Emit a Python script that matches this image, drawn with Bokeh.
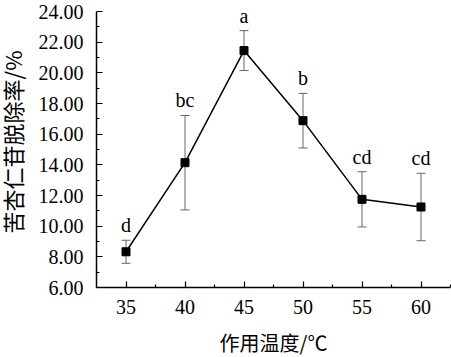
import math
from bokeh.plotting import figure
from bokeh.models import (ColumnDataSource, Whisker, TeeHead, FixedTicker,
                          CustomJSTickFormatter, Range1d)
from bokeh.core.properties import value
from bokeh.embed import file_html
from bokeh.resources import INLINE

temps = [35, 40, 45, 50, 55, 60]
means = [8.33, 14.14, 21.45, 16.88, 11.75, 11.25]
sds = [0.75, 3.08, 1.30, 1.78, 1.80, 2.20]
letters = ["d", "bc", "a", "b", "cd", "cd"]
y_ticks = [6, 8, 10, 12, 14, 16, 18, 20, 22, 24]
x_ticks = [35, 40, 45, 50, 55, 60]
x_title = "作用温度/℃"
y_title = "苦杏仁苷脱除率/%"

src = ColumnDataSource(dict(
    x=temps, y=means,
    upper=[m + s for m, s in zip(means, sds)],
    lower=[m - s for m, s in zip(means, sds)],
    lab=letters,
))

xr = Range1d(32.5, 62.5)
yr = Range1d(6, 24)
p = figure(width=451, height=357, output_backend="svg", toolbar_location=None,
           x_range=xr, y_range=yr)
p.min_border_left = 96
p.min_border_right = 1
p.min_border_top = 11
p.min_border_bottom = 70
p.outline_line_color = None
p.grid.visible = False
p.background_fill_color = "white"
p.border_fill_color = "white"

serif = "Times New Roman"
blank = CustomJSTickFormatter(code="return ''")
for ax in (p.xaxis[0], p.yaxis[0]):
    ax.axis_line_color = "black"
    ax.axis_line_width = 1.5
    ax.major_tick_line_color = "black"
    ax.minor_tick_line_color = "black"
    ax.major_tick_line_width = 1.2
    ax.minor_tick_line_width = 1.2
    ax.major_tick_in = 6
    ax.major_tick_out = 0
    ax.minor_tick_in = 3
    ax.minor_tick_out = 0
    ax.major_label_text_font_size = "20px"
    ax.major_label_standoff = 12
    ax.formatter = blank

p.yaxis.ticker = FixedTicker(ticks=y_ticks, minor_ticks=list(range(7, 24, 2)))
p.xaxis.ticker = FixedTicker(ticks=x_ticks, minor_ticks=[37.5, 42.5, 47.5, 52.5, 57.5, 62.5])

# tick labels drawn in serif through the plot's scales
ysrc = ColumnDataSource(dict(x=[xr.start] * len(y_ticks), y=y_ticks,
                             t=["%.2f" % v for v in y_ticks]))
xsrc = ColumnDataSource(dict(x=x_ticks, y=[yr.start] * len(x_ticks),
                             t=[str(v) for v in x_ticks]))
p.text("x", "y", text="t", source=ysrc, text_font=value(serif), text_font_size="20px",
       text_align="right", text_baseline="middle", x_offset=-13, text_color="black",
       level="overlay")
p.text("x", "y", text="t", source=xsrc, text_font=value(serif), text_font_size="20px",
       text_align="center", text_baseline="top", y_offset=12, text_color="black",
       level="overlay")

# axis titles
xmid = (xr.start + xr.end) / 2
ymid = yr.start + (yr.end - yr.start) * 0.527
p.text(x=[xmid], y=[yr.start], text=[x_title], text_font=value("Noto Sans CJK SC"),
       text_font_size="20px", text_align="center", text_baseline="middle",
       y_offset=55, text_color="black", level="overlay")
p.text(x=[xr.start], y=[ymid], text=[y_title], text_font=value("Noto Sans CJK SC"),
       text_font_size="22px", text_align="center", text_baseline="middle",
       angle=math.pi / 2, x_offset=-85, text_color="black", level="overlay")

w = Whisker(source=src, base="x", upper="upper", lower="lower",
            line_color="#666666", line_width=1,
            upper_head=TeeHead(size=9, line_color="#666666", line_width=1),
            lower_head=TeeHead(size=9, line_color="#666666", line_width=1))
p.add_layout(w)

p.line("x", "y", source=src, line_color="black", line_width=1.5)
p.scatter("x", "y", source=src, marker="square", size=8, fill_color="black", line_color="black")

p.text("x", "upper", text="lab", source=src, text_font=value(serif), text_font_size="20px",
       text_align="center", text_baseline="bottom", y_offset=-4, text_color="black")

open("out.html", "w").write(file_html(p, INLINE))
